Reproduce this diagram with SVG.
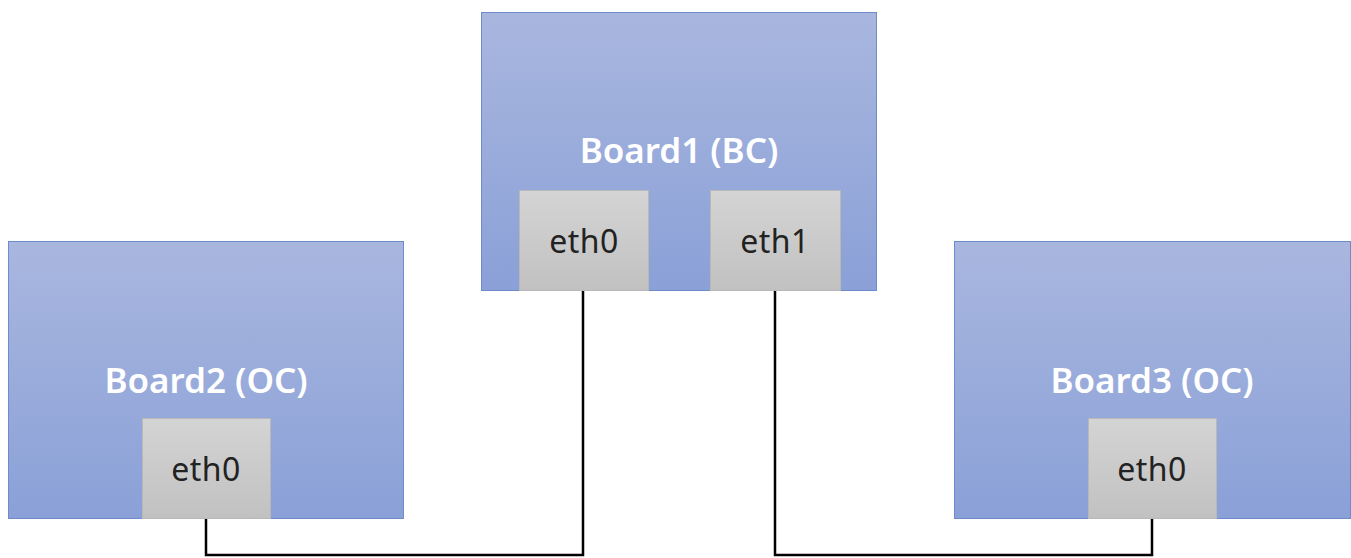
<svg xmlns="http://www.w3.org/2000/svg" width="1351" height="558" viewBox="0 0 1351 558">
<defs>
<linearGradient id="gb" x1="0" y1="0" x2="0" y2="1">
<stop offset="0" stop-color="#a9b7df"/>
<stop offset="1" stop-color="#8aa0d7"/>
</linearGradient>
<linearGradient id="gp" x1="0" y1="0" x2="0" y2="1">
<stop offset="0" stop-color="#d4d4d4"/>
<stop offset="1" stop-color="#c1c1c1"/>
</linearGradient>
<style>
.board{fill:url(#gb);stroke:#6e8bcb;stroke-width:1}
.port{fill:url(#gp);stroke:#b8b8b8;stroke-width:1}
.bl{font-family:"Noto Sans","Liberation Sans",sans-serif;font-weight:600;font-size:35px;fill:#ffffff;text-anchor:middle}
.pl{font-family:"Noto Sans","Liberation Sans",sans-serif;font-size:32px;letter-spacing:0.5px;fill:#222222;text-anchor:middle}
.wire{fill:none;stroke:#000000;stroke-width:2.5}
</style>
</defs>
<rect width="1351" height="558" fill="#ffffff"/>
<g id="board1">
<rect class="board" x="481.5" y="12.5" width="395" height="278"/>
<text class="bl" x="679" y="163">Board1 (BC)</text>
<g id="board1-eth0">
<rect class="port" x="519.5" y="190.5" width="129" height="100"/>
<text class="pl" x="584" y="253">eth0</text>
</g>
<g id="board1-eth1">
<rect class="port" x="710.5" y="190.5" width="130" height="100"/>
<text class="pl" x="775" y="253">eth1</text>
</g>
</g>
<g id="board2">
<rect class="board" x="8.5" y="241.5" width="395" height="277"/>
<text class="bl" x="206" y="393">Board2 (OC)</text>
<g id="board2-eth0">
<rect class="port" x="142.5" y="418.5" width="128" height="100"/>
<text class="pl" x="206" y="481">eth0</text>
</g>
</g>
<g id="board3">
<rect class="board" x="954.5" y="241.5" width="396" height="277"/>
<text class="bl" x="1152" y="393">Board3 (OC)</text>
<g id="board3-eth0">
<rect class="port" x="1088.5" y="418.5" width="128" height="100"/>
<text class="pl" x="1152" y="481">eth0</text>
</g>
</g>
<g id="connectors">
<polyline class="wire" points="206,519 206,555 583,555 583,291"/>
<polyline class="wire" points="1152,519 1152,555 775,555 775,291"/>
</g>
</svg>
